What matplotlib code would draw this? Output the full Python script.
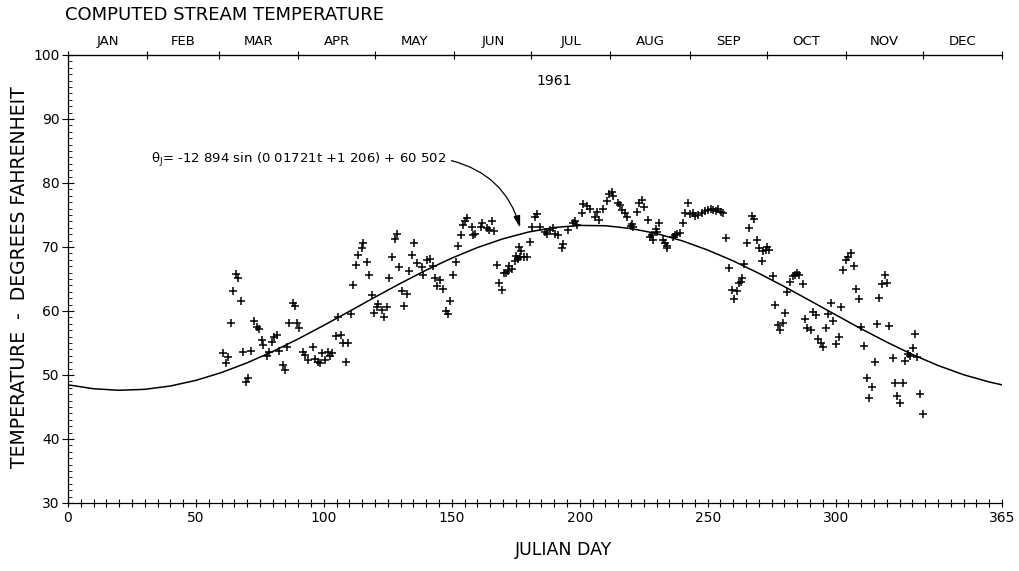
import matplotlib
matplotlib.use("Agg")
import matplotlib.pyplot as plt

obs_day = [
    60.7, 61.6, 62.6, 63.6, 64.6, 65.6, 66.6, 67.5, 68.5, 69.6, 70.5, 71.4, 72.7, 73.7, 74.5,
    75.7, 76.3, 77.6, 78.7, 79.6, 80.6, 81.6, 82.6, 83.9, 84.8, 85.5, 86.5, 87.8, 88.6, 89.6,
    90.4, 91.7, 92.6, 93.7, 95.6, 96.6, 97.6, 98.4, 99.1, 100.3, 101.7, 102.4, 103.0, 104.7,
    105.6, 106.6, 107.6, 108.5, 109.5,
    110.5, 111.5, 112.4, 113.4, 114.8, 115.4, 116.7, 117.6, 118.7, 119.6, 120.6, 121.3, 122.6,
    123.5, 124.5, 125.6, 126.5, 127.7, 128.4, 129.5, 130.4, 131.4, 132.3, 133.4, 134.3, 135.3,
    136.3, 138.3, 138.8, 140.2, 141.5, 142.5, 143.4, 144.3, 145.4, 146.4, 147.7, 148.6, 149.3,
    150.6, 151.6, 152.5, 153.5, 154.3, 155.1, 156.0, 157.7, 158.4, 159.0, 161.3, 161.7, 163.6,
    164.6, 165.6, 166.5, 167.5, 168.5, 169.5, 170.4, 171.2, 172.1, 172.4, 173.4, 174.7, 175.1,
    176.0, 176.4, 176.6, 176.9, 178.3, 179.2, 180.5, 181.2, 182.5, 183.2, 184.4, 186.4, 187.3,
    188.4, 189.4, 190.3, 191.6, 193.0, 193.6, 195.5, 197.2, 198.1, 199.0, 200.7, 201.4, 202.9,
    204.0, 205.9, 206.6, 207.6, 209.2, 210.5, 211.5, 212.5, 213.1, 215.0, 215.7, 216.4, 217.7,
    218.6, 219.9, 220.3, 220.7, 222.2, 223.3, 224.2, 225.1, 226.5, 227.4, 228.1, 228.7, 229.8,
    230.3, 231.1, 232.4, 233.3, 233.9, 234.2, 236.5, 237.2, 238.1, 239.2, 240.2, 241.1, 242.4,
    243.1, 244.4, 245.0, 246.3, 247.6, 248.9, 250.2, 251.1, 252.2, 253.2, 254.1, 255.1, 256.1,
    257.1, 258.4, 259.4, 260.3, 261.3, 262.3, 262.9, 263.3, 264.2, 265.2, 266.2, 267.5, 268.1,
    269.3, 270.1, 271.1, 271.7, 272.8, 273.3, 274.1, 275.4, 276.3, 277.6, 278.2, 279.3, 280.2,
    281.1, 282.1, 283.4, 284.1, 285.0, 285.8, 287.3, 288.0, 288.9, 290.2, 291.3, 292.3, 293.2,
    294.1, 295.2, 296.2, 297.1, 298.0, 299.1, 300.1, 301.4, 302.0, 303.0, 304.1, 305.0, 305.9,
    307.1, 308.0, 309.3, 310.1, 311.1, 312.1, 313.1, 314.1, 315.3, 316.0, 317.0, 318.0, 319.3,
    320.2, 320.9, 322.3, 323.2, 324.1, 325.1, 326.2, 327.1, 328.4, 329.0, 330.1, 331.0, 331.9,
    332.9, 334.0,
]
obs_temp = [
    53.5, 51.8, 52.8, 58.1, 63.2, 65.8, 65.1, 61.5, 53.6, 48.9, 49.5, 53.8, 58.5, 57.5, 57.2,
    55.4, 54.7, 53.0, 53.6, 55.2, 55.9, 56.3, 53.8, 51.6, 50.8, 54.3, 58.2, 61.2, 60.8, 58.1,
    57.4, 53.6, 53.1, 52.3, 54.3, 52.5, 52.0, 51.8, 53.5, 52.3, 53.6, 53.0, 53.5, 56.1,
    59.1, 56.2, 55.0, 52.0, 55.0,
    59.6, 64.1, 67.2, 68.8, 69.8, 70.6, 67.6, 65.7, 62.5, 59.7, 60.7, 61.1, 60.2,
    59.0, 60.7, 65.1, 68.5, 71.3, 72.0, 66.9, 63.1, 60.8, 62.6, 66.3, 68.8, 70.7,
    67.5, 66.8, 65.6, 68.0, 68.1, 67.0, 65.1, 63.9, 64.8, 63.4, 60.0, 59.5, 61.5,
    65.6, 67.7, 70.2, 71.9, 73.5, 74.0, 74.6, 73.2, 71.9, 72.1, 73.2, 73.7, 72.9,
    72.7, 74.0, 72.5, 67.2, 64.4, 63.3, 65.9, 66.0, 66.3, 67.0, 66.5, 67.8, 68.6,
    68.1, 70.0, 68.5, 69.3, 68.5, 68.4, 70.8, 73.2, 74.7, 75.2, 73.2, 72.4, 72.1,
    72.7, 72.9, 72.1, 71.9, 69.9, 70.5, 72.7, 73.7, 74.0, 73.4, 75.3, 76.7, 76.4,
    76.0, 74.7, 75.4, 74.2, 75.9, 77.2, 78.3, 78.6, 78.0, 76.9, 76.6, 75.8, 75.3,
    74.7, 73.3, 73.6, 73.1, 75.4, 76.8, 77.4, 76.2, 74.2, 71.6, 71.9, 71.1, 72.8,
    72.4, 73.8, 71.1, 70.6, 70.2, 69.8, 71.6, 71.9, 72.1, 72.2, 73.8, 75.3, 76.8,
    75.2, 75.3, 74.8, 75.0, 75.3, 75.6, 75.8, 75.9, 75.8, 75.7, 75.9, 75.4, 75.3,
    71.4, 66.7, 63.3, 61.9, 63.2, 64.3, 64.6, 65.1, 67.3, 70.6, 72.9, 74.8, 74.4,
    71.1, 69.8, 67.8, 69.3, 69.6, 70.0, 69.5, 65.4, 60.9, 57.8, 57.1, 58.2, 59.7,
    63.0, 64.6, 65.4, 65.6, 65.9, 65.6, 64.2, 58.8, 57.3, 57.0, 59.9, 59.4, 55.6,
    55.0, 54.4, 57.3, 59.5, 61.3, 58.5, 54.8, 56.0, 60.6, 66.4, 68.0, 68.5, 69.1,
    67.0, 63.4, 61.8, 57.5, 54.5, 49.5, 46.4, 48.1, 52.1, 58.0, 62.1, 64.2, 65.6,
    64.3, 57.7, 52.6, 48.7, 46.7, 45.6, 48.7, 52.2, 53.3, 52.9, 54.2, 56.4, 52.8,
    47.0, 43.9,
]

# fitted curve, read every 10 days along the drawn line
fit_day = [0, 10, 20, 30, 40, 50, 60, 70, 80, 90, 100, 110, 120, 130, 140, 150, 160, 170,
           180, 190, 200, 210, 220, 230, 240, 250, 260, 270, 280, 290, 300, 310, 320, 330,
           340, 350, 360, 365]
fit_temp = [48.46, 47.85, 47.61, 47.76, 48.28, 49.16, 50.38, 51.90, 53.67, 55.64, 57.76,
            59.95, 62.17, 64.33, 66.39, 68.26, 69.91, 71.28, 72.34, 73.04, 73.37, 73.32,
            72.89, 72.10, 70.97, 69.52, 67.82, 65.88, 63.80, 61.61, 59.40, 57.21, 55.13,
            53.20, 51.49, 50.04, 48.91, 48.46]

months = ["JAN", "FEB", "MAR", "APR", "MAY", "JUN", "JUL", "AUG", "SEP", "OCT", "NOV", "DEC"]
month_ends = [0, 31, 59, 90, 120, 151, 181, 212, 243, 273, 304, 334, 365]

x_labels = [0, 50, 100, 150, 200, 250, 300, 365]
y_labels = [30, 40, 50, 60, 70, 80, 90, 100]

plt.rcParams.update({"font.family": "DejaVu Sans", "font.size": 10})

fig = plt.figure(figsize=(10.19, 5.71), dpi=100)
ax = fig.add_axes([0.0667, 0.1191, 0.9166, 0.7846])

ax.plot(fit_day, fit_temp, color="black", linewidth=1.1)
ax.plot(obs_day, obs_temp, linestyle="none", marker="+", markersize=6,
        markeredgewidth=1.1, color="black")

ax.set_xlim(0, 365)
ax.set_ylim(30, 100)

ax.spines["right"].set_visible(False)
for side in ("left", "bottom", "top"):
    ax.spines[side].set_linewidth(0.9)

ax.set_xticks(x_labels)
ax.set_xticklabels([str(v) for v in x_labels])
ax.set_xticks(range(0, 366, 5), minor=True)
ax.tick_params(axis="x", which="both", direction="inout", length=6, width=0.8, pad=3,
               labelsize=10)
ax.set_yticks(y_labels)
ax.set_yticklabels([str(v) for v in y_labels])
ax.set_yticks(range(30, 101), minor=True)
ax.tick_params(axis="y", which="major", direction="inout", length=8, width=0.8, pad=2,
               labelsize=10)
ax.tick_params(axis="y", which="minor", direction="in", length=3, width=0.6)

# month boundaries on the top edge
top = ax.twiny()
top.set_xlim(0, 365)
top.set_xticks(month_ends)
top.set_xticklabels([])
top.tick_params(axis="x", which="major", direction="inout", length=6, width=0.8)
for side in ("right", "left", "bottom"):
    top.spines[side].set_visible(False)
tr = ax.get_xaxis_transform()
for i, name in enumerate(months):
    mid = (month_ends[i] + month_ends[i + 1]) / 2
    ax.text(mid, 1.029, name, transform=tr, ha="center", va="center", fontsize=9.5)

fig.text(0.0638, 0.9737, "COMPUTED STREAM TEMPERATURE", ha="left", va="center",
         fontsize=13)
fig.text(0.553, 0.037, "JULIAN DAY", ha="center", va="center", fontsize=12.5)
fig.text(0.0196, 0.515, "TEMPERATURE  -  DEGREES FAHRENHEIT", rotation=90,
         ha="center", va="center", fontsize=13.5)

ax.text(190, 96, "1961", ha="center", va="center", fontsize=10)
ax.text(32.3, 83.6, r"θ$_\mathrm{J}$= -12 894 sin (0 01721t +1 206) + 60 502",
        ha="left", va="center", fontsize=9.5)
ax.annotate("", xy=(177, 72.6), xytext=(148.8, 83.6),
            arrowprops=dict(arrowstyle="-|>,head_width=0.2,head_length=0.7",
                            connectionstyle="arc3,rad=-0.3", color="black", lw=0.9))

fig.savefig("out.png", dpi=100)
